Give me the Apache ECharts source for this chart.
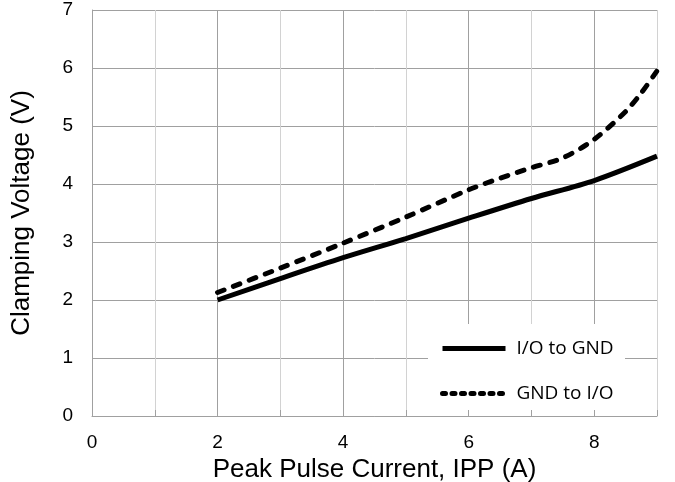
<!DOCTYPE html>
<html>
<head>
<meta charset="utf-8">
<script src="https://cdn.jsdelivr.net/npm/echarts@6/dist/echarts.min.js"></script>
<style>
  html, body { margin: 0; padding: 0; background: #fff; }
  #chart { width: 675px; height: 482px; }
</style>
</head>
<body>
<div id="chart"></div>
<script>
// 数据
var ioToGndX = [2, 3, 4, 5, 6, 7, 8, 9];
var ioToGndY = [2.0, 2.37, 2.73, 3.06, 3.41, 3.75, 4.06, 4.48];
var gndToIoX = [2, 3, 4, 5, 6, 6.5, 7, 7.5, 8, 8.5, 8.75, 9];
var gndToIoY = [2.13, 2.55, 2.98, 3.43, 3.9, 4.1, 4.28, 4.45, 4.77, 5.25, 5.57, 5.95];
var seriesNames = ['I/O to GND', 'GND to I/O'];

function pairs(xs, ys) {
  return xs.map(function (x, i) { return [x, ys[i]]; });
}

var chart = echarts.init(document.getElementById('chart'));

var option = {
  animation: false,
  grid: { left: 92, top: 10, right: 18, bottom: 66, containLabel: false, outerBoundsMode: 'none' },
  // 图例底色（盖住网格线）
  graphic: [{
    type: 'rect',
    z: 3,
    shape: { x: 428, y: 324, width: 197, height: 86 },
    style: { fill: '#fff' }
  }],
  legend: {
    orient: 'vertical',
    left: 428,
    top: 324,
    z: 5,
    padding: [15, 10, 9, 12],
    itemWidth: 63,
    itemHeight: 14,
    itemGap: 26,
    itemStyle: { color: 'rgba(0,0,0,0)', borderWidth: 0 },
    textStyle: { fontFamily: 'Open Sans', fontSize: 19, color: '#000', padding: [0, 0, 0, 6] },
    data: [
      { name: seriesNames[0], lineStyle: { width: 5, color: '#000' } },
      { name: seriesNames[1], lineStyle: { width: 5, color: '#000', type: [3, 6.5], cap: 'round' } }
    ]
  },
  xAxis: {
    type: 'value',
    min: 0,
    max: 9,
    interval: 1,
    name: 'Peak Pulse Current, IPP (A)',
    nameLocation: 'middle',
    nameGap: 40,
    nameTextStyle: { fontFamily: 'Liberation Sans', fontSize: 26, color: '#000' },
    axisLine: { lineStyle: { color: '#a0a0a0', width: 1 } },
    axisTick: { inside: true, length: 6, lineStyle: { color: '#a0a0a0' } },
    axisLabel: {
      margin: 17,
      fontFamily: 'Liberation Sans',
      fontSize: 19,
      color: '#000',
      formatter: function (v) { return v % 2 === 0 ? String(v) : ''; }
    },
    splitLine: { show: true, lineStyle: { color: ['#a0a0a0', '#d2d2d2'], width: 1 } }
  },
  yAxis: {
    type: 'value',
    min: 0,
    max: 7,
    interval: 1,
    name: 'Clamping Voltage (V)',
    nameLocation: 'middle',
    nameGap: 57,
    nameTextStyle: { fontFamily: 'Liberation Sans', fontSize: 26, color: '#000' },
    axisLine: { show: true, lineStyle: { color: '#a0a0a0', width: 1 } },
    axisTick: { show: false },
    axisLabel: {
      margin: 19,
      fontFamily: 'Liberation Sans',
      fontSize: 19,
      color: '#000',
      padding: [10, 0, 0, 0]
    },
    splitLine: { show: true, lineStyle: { color: '#a0a0a0', width: 1 } }
  },
  series: [
    {
      name: seriesNames[0],
      type: 'line',
      data: pairs(ioToGndX, ioToGndY),
      symbol: 'none',
      smooth: 0.3,
      lineStyle: { color: '#000', width: 5 },
      itemStyle: { color: '#000' }
    },
    {
      name: seriesNames[1],
      type: 'line',
      data: pairs(gndToIoX, gndToIoY),
      symbol: 'none',
      smooth: 0.3,
      lineStyle: { color: '#000', width: 5, type: [7, 10], cap: 'round' },
      itemStyle: { color: '#000' }
    }
  ]
};
chart.setOption(option);
</script>
</body>
</html>
